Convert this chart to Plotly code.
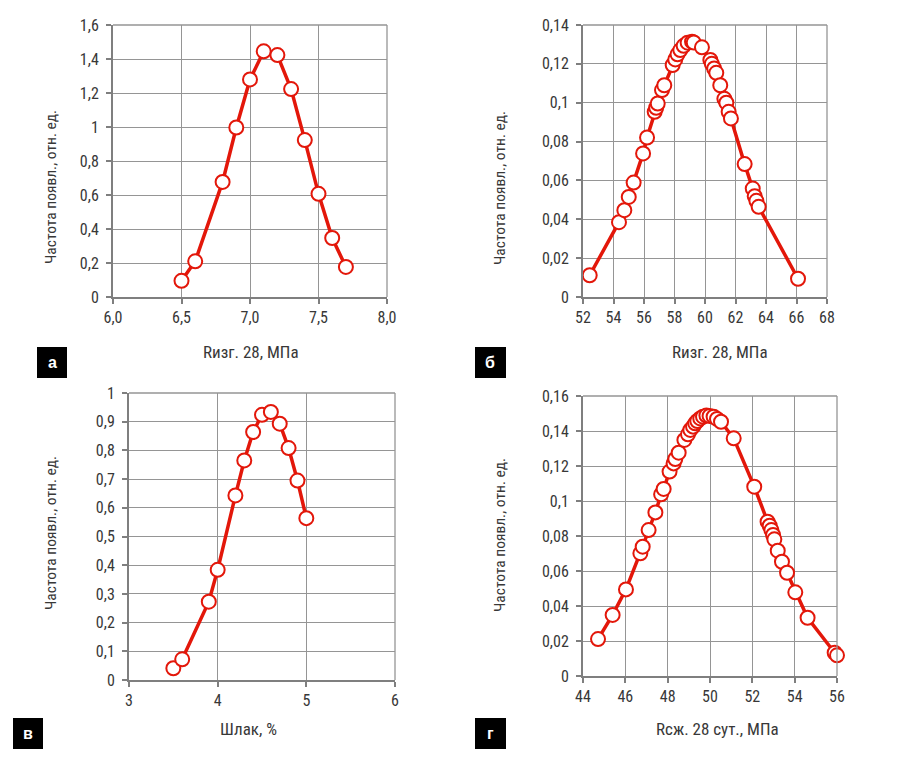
import plotly.graph_objects as go

# ---------------- data ----------------
a_x = [6.5, 6.6, 6.8, 6.9, 7.0, 7.1, 7.2, 7.3, 7.4, 7.5, 7.6, 7.7]
a_y = [0.095, 0.21, 0.677, 0.997, 1.28, 1.445, 1.423, 1.223, 0.923, 0.607, 0.347, 0.177]

b_x = [52.44, 54.36, 54.71, 55.0, 55.32, 55.94, 56.2, 56.7, 56.8, 56.9, 57.18, 57.33,
       57.88, 58.05, 58.2, 58.38, 58.6, 58.86, 59.15, 59.26, 59.8, 60.35, 60.45, 60.6,
       60.74, 61.0, 61.27, 61.4, 61.55, 61.7, 62.6, 63.13, 63.26, 63.37, 63.52, 66.1]
b_y = [0.0112, 0.0385, 0.0447, 0.0515, 0.0589, 0.0739, 0.0821, 0.0953, 0.0974, 0.0996,
       0.1065, 0.109, 0.1194, 0.1223, 0.1249, 0.1271, 0.1293, 0.1309, 0.1314, 0.131,
       0.1285, 0.122, 0.120, 0.1176, 0.1154, 0.109, 0.102, 0.100, 0.0953, 0.0919,
       0.0684, 0.0558, 0.0519, 0.0495, 0.0464, 0.0094]

c_x = [3.5, 3.6, 3.9, 4.0, 4.2, 4.3, 4.4, 4.5, 4.6, 4.7, 4.8, 4.9, 5.0]
c_y = [0.041, 0.072, 0.273, 0.384, 0.643, 0.765, 0.864, 0.924, 0.934, 0.893, 0.808, 0.695, 0.564]

d_x = [44.71, 45.4, 46.03, 46.71, 46.82, 47.1, 47.42, 47.69, 47.81, 48.09, 48.28, 48.36,
       48.52, 48.79, 48.96, 49.07, 49.2, 49.3, 49.4, 49.54, 49.67, 49.83, 49.98, 50.17,
       50.33, 50.52, 51.12, 52.09, 52.72, 52.82, 52.9, 52.98, 53.04, 53.2, 53.4, 53.64,
       54.03, 54.61, 55.89, 56.0]
d_y = [0.0211, 0.0349, 0.0495, 0.0701, 0.0739, 0.0834, 0.0935, 0.1038, 0.1069, 0.1168,
       0.1215, 0.124, 0.1276, 0.1349, 0.1381, 0.1406, 0.1425, 0.1444, 0.1457, 0.1472,
       0.1482, 0.1488, 0.1486, 0.1482, 0.1469, 0.1453, 0.1358, 0.1082, 0.0882, 0.0859,
       0.0834, 0.0806, 0.0781, 0.0716, 0.0653, 0.059, 0.0478, 0.0333, 0.0133, 0.0118]

y_title = "Частота появл., отн. ед."
x_titles = ["Rизг. 28, МПа", "Rизг. 28, МПа", "Шлак, %", "Rсж. 28 сут., МПа"]
panel_letters = ["а", "б", "в", "г"]

# ---------------- layout helpers ----------------
OFF = 8  # page body margin
W, H = 911 - OFF, 774 - OFF
def px(x):
    return (x - OFF) / W
def py(y):
    return 1 - (y - OFF) / H

FONT = "Liberation Sans Narrow, Arial Narrow, Roboto Condensed, Liberation Sans, sans-serif"
RED = "#e3170a"
AXC = "#7f7f7f"
GRID = "#959595"
TXT = "#383838"

# panel pixel boxes: (left, right, top, bottom)
boxes = [(113, 387, 25, 297), (583, 827, 25, 297), (129, 395, 393, 680), (583, 837, 396, 676)]
xranges = [[6, 8], [52, 68], [3, 6], [44, 56]]
xdticks = [0.5, 2, 1, 2]
xformats = [".1f", "", "", ""]
yranges = [[0, 1.6], [0, 0.14], [0, 1], [0, 0.16]]
ydticks = [0.2, 0.02, 0.1, 0.02]
xs = [a_x, b_x, c_x, d_x]
ys = [a_y, b_y, c_y, d_y]

xtitle_pos = [(251, 352), (720, 352), (248, 729), (717, 729)]
ytitle_pos = [(51, 187), (500, 188), (51, 533), (500, 535)]
letter_box = [(37, 67, 347, 378), (475, 506, 347, 378), (13, 43, 718, 749), (475, 506, 718, 749)]

fig = go.Figure()
annotations = []
shapes = []
for i in range(4):
    n = "" if i == 0 else str(i + 1)
    l, r, t, b = boxes[i]
    fig.add_trace(go.Scatter(
        x=xs[i], y=ys[i], mode="lines+markers",
        xaxis="x" + n, yaxis="y" + n,
        line=dict(color=RED, width=3.5),
        marker=dict(size=14, color="white", line=dict(color=RED, width=2)),
        cliponaxis=False, showlegend=False, hoverinfo="skip"))
    common = dict(showline=True, linecolor=AXC, linewidth=2, ticks="outside",
                  ticklen=5, tickwidth=1.5, tickcolor=AXC, showgrid=True,
                  gridcolor=GRID, gridwidth=1.3, zeroline=False, automargin=False,
                  tickfont=dict(family=FONT, size=16, color=TXT))
    fig.update_layout(**{
        "xaxis" + n: dict(domain=[px(l), px(r)], range=xranges[i], dtick=xdticks[i],
                          tick0=xranges[i][0], tickformat=xformats[i],
                          anchor="y" + n, **common),
        "yaxis" + n: dict(domain=[py(b), py(t)], range=yranges[i], dtick=ydticks[i],
                          tick0=0, anchor="x" + n, ticklabelstandoff=4, **common),
    })
    # top / right border
    shapes.append(dict(type="line", xref="paper", yref="paper",
                       x0=px(l), x1=px(r), y0=py(t), y1=py(t),
                       line=dict(color=GRID, width=1.3)))
    shapes.append(dict(type="line", xref="paper", yref="paper",
                       x0=px(r), x1=px(r), y0=py(t), y1=py(b),
                       line=dict(color=GRID, width=1.3)))
    # titles
    xt = xtitle_pos[i]
    annotations.append(dict(text=x_titles[i], xref="paper", yref="paper",
                            x=px(xt[0]), y=py(xt[1]), showarrow=False,
                            xanchor="center", yanchor="middle",
                            font=dict(family=FONT, size=17, color=TXT)))
    yt = ytitle_pos[i]
    annotations.append(dict(text=y_title, xref="paper", yref="paper",
                            x=px(yt[0]), y=py(yt[1]), showarrow=False, textangle=-90,
                            xanchor="center", yanchor="middle",
                            font=dict(family=FONT, size=15.5, color=TXT)))
    lb = letter_box[i]
    shapes.append(dict(type="rect", xref="paper", yref="paper",
                       x0=px(lb[0]), x1=px(lb[1]), y0=py(lb[3]), y1=py(lb[2]),
                       fillcolor="black", line=dict(width=0)))
    annotations.append(dict(text="<b>" + panel_letters[i] + "</b>", xref="paper", yref="paper",
                            x=px((lb[0] + lb[1]) / 2), y=py((lb[2] + lb[3]) / 2),
                            showarrow=False, xanchor="center", yanchor="middle",
                            font=dict(family="Liberation Sans, Arial, sans-serif", size=16, color="white")))

fig.update_layout(
    width=W, height=H, margin=dict(l=0, r=0, t=0, b=0, pad=0, autoexpand=False),
    paper_bgcolor="white", plot_bgcolor="white",
    separators=", ",
    annotations=annotations, shapes=shapes,
)

fig.write_html("out.html")
